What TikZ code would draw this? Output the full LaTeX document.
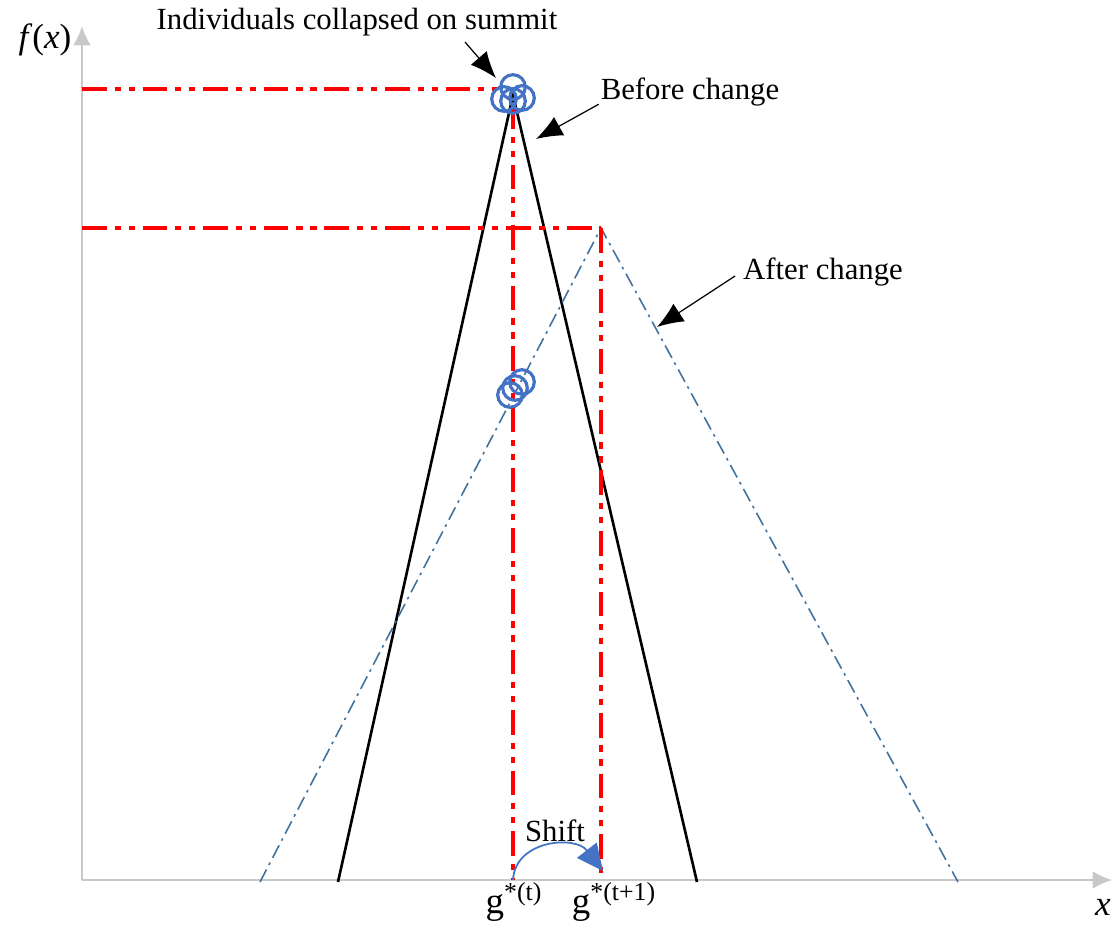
\documentclass[tikz,border=0pt]{standalone}
\usepackage{fontspec}
\setmainfont{Liberation Serif}
\usepackage{xcolor}
\usepackage{tikz}
\usetikzlibrary{arrows.meta}
\usetikzlibrary{positioning}
\usetikzlibrary{calc}

\definecolor{axisgray}{RGB}{200,200,200}
\definecolor{indblue}{RGB}{68,114,196}
\definecolor{landblue}{RGB}{65,113,156}

\begin{document}
\begin{tikzpicture}[x=0.02cm,y=-0.02cm]
			\tikzstyle{lbl}=[inner sep=1pt,font=\fontsize{17.5}{20}\selectfont]
			\tikzstyle{indiv}=[draw=indblue,circle,line width=1.8pt,minimum size=14pt,inner sep=0pt]
			\tikzstyle{guide}=[red,line width=1.9pt,dash pattern=on 14pt off 4.5pt on 3.5pt off 4.5pt on 3.5pt off 4.5pt]
			\tikzstyle{note}=[-{Latex[length=15pt,width=12pt]},line width=0.7pt]

			\useasboundingbox (0,0) rectangle (1112,933);

			% axes
			\coordinate (o) at (82,880);
			\coordinate (ytop) at (82,26);
			\coordinate (xend) at (1112,880);
			\draw[axisgray,line width=1pt,-{Latex[length=11pt,width=10pt]}] (o) -- (ytop);
			\draw[axisgray,line width=1pt,-{Latex[length=11pt,width=10pt]}] (o) -- (xend);
			\node (fx) [lbl,font=\fontsize{20}{22}\selectfont] at (45,40) {\textit{f}(\textit{x})};
			\node (xl) [lbl,font=\fontsize{20}{22}\selectfont] at (1103,907) {\textit{x}};

			% landscape before and after change
			\coordinate (b1) at (338,882);
			\coordinate (top) at (513,95);
			\coordinate (b2) at (697,882);
			\coordinate (a1) at (260,882);
			\coordinate (newtop) at (601,228);
			\coordinate (a2) at (958,882);
			\draw[line width=1.5pt] (b1) -- (top) -- (b2);
			\draw[landblue,line width=0.9pt,dash pattern=on 8pt off 3pt on 1.5pt off 3pt] (a1) -- (newtop) -- (a2);

			% optimum guides
			\coordinate (g1) at (513,880);
			\coordinate (g2) at (601,880);
			\draw[guide] (82,89) -- (497,89);
			\draw[guide] (82,228) -- (newtop);
			\draw[guide] (513,104) -- (g1);
			\draw[guide] (newtop) -- (g2);

			% individuals
			\node (i1) [indiv] at (513,87) {};
			\node (i2) [indiv] at (504,99) {};
			\node (i3) [indiv] at (522,98) {};
			\node (i4) [indiv] at (513,101) {};
			\node (j1) [indiv] at (522,382) {};
			\node (j2) [indiv] at (515,388) {};
			\node (j3) [indiv] at (510,395) {};

			% annotations
			\node (coll) [lbl] at (357,22) {Individuals collapsed on summit};
			\node (bef) [lbl] at (690,92) {Before change};
			\node (aft) [lbl] at (823,272) {After change};
			\coordinate (cpt) at (496,78);
			\coordinate (bpt) at (536,139);
			\coordinate (apt) at (657,327);
			\draw[note] (465,42) -- (cpt);
			\draw[note] (bef.south west) ++(0,-4) -- (bpt);
			\draw[note] (aft.west) ++(-6,4) -- (apt);

			% shift
			\node (gt) [lbl,font=\fontsize{21}{24}\selectfont] at (514,902) {g\textsuperscript{*(t)}};
			\node (gt1) [lbl,font=\fontsize{21}{24}\selectfont] at (614,902) {g\textsuperscript{*(t+1)}};
			\node (sh) [lbl] at (555,831) {Shift};
			\draw[indblue,line width=1pt,-{Triangle[length=15pt,width=14pt]}] (g1) .. controls (515,840) and (575,835) .. (603,871);

\end{tikzpicture}
\end{document}
